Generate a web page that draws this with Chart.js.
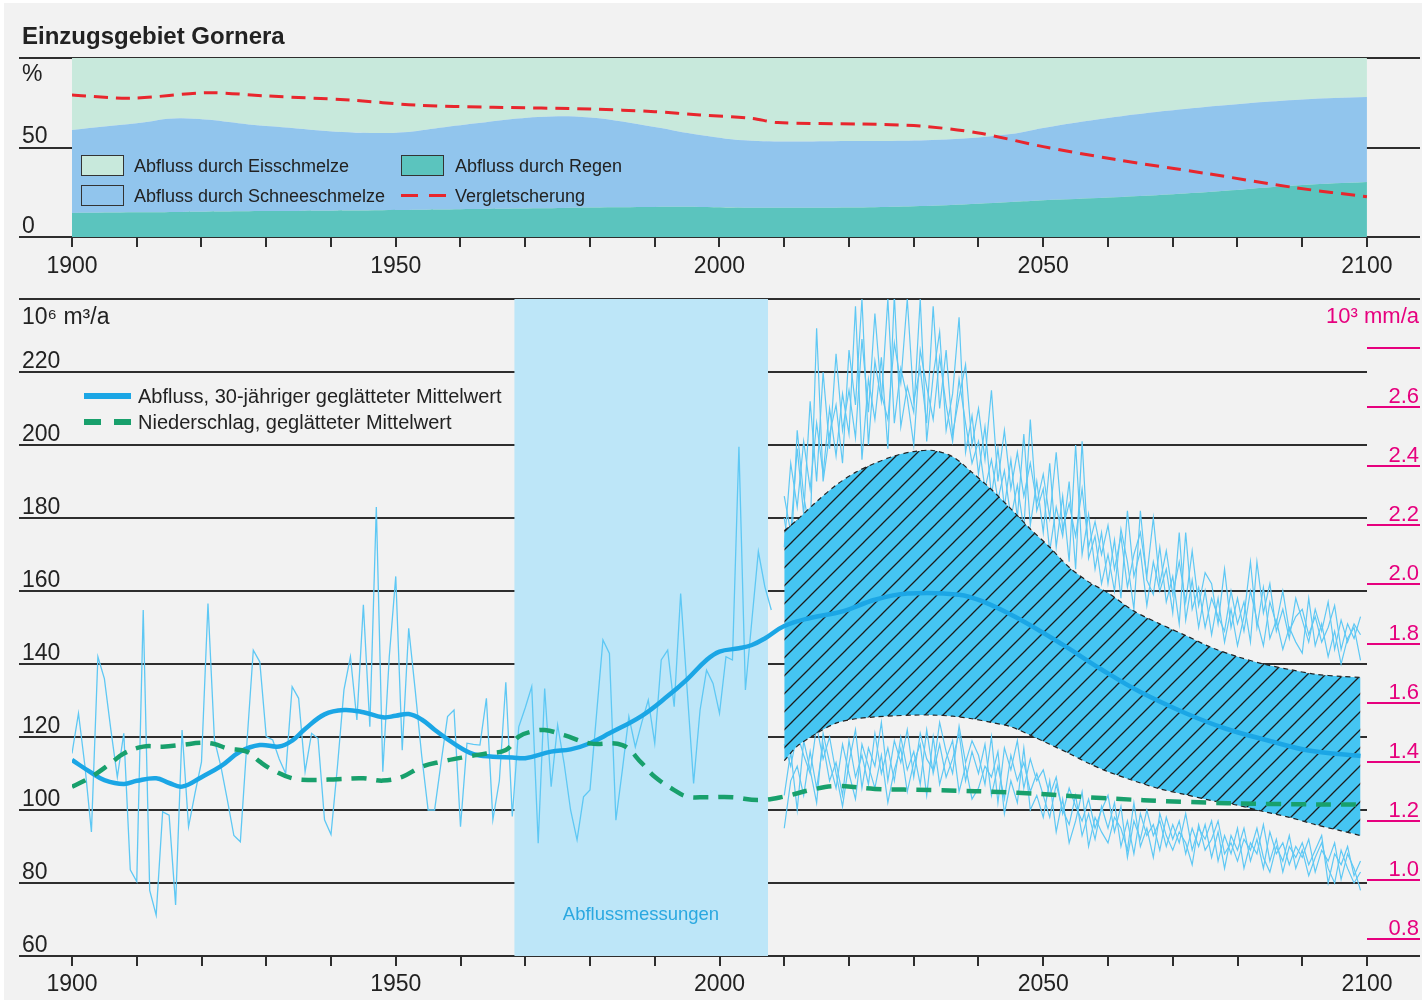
<!DOCTYPE html>
<html>
<head>
<meta charset="utf-8">
<script src="https://cdn.jsdelivr.net/npm/chart.js@4.4.1/dist/chart.umd.min.js"></script>
<style>
html,body{margin:0;padding:0;background:#ffffff;}
body{width:1422px;height:1000px;position:relative;overflow:hidden;font-family:'Liberation Sans',Arial,Helvetica,sans-serif;color:#222;}
#bg{position:absolute;left:4px;top:3px;right:0;bottom:0;background:#f2f2f2;}
canvas{position:absolute;left:0;}
#cTop{top:0;}
#cBot{top:290px;}
.t{position:absolute;white-space:nowrap;color:#222;}
.box{position:absolute;width:41px;height:19px;border:1.5px solid #333;}
.sw{position:absolute;}
</style>
</head>
<body>
<div id="bg"></div>
<canvas id="cTop" width="1422" height="290"></canvas>
<canvas id="cBot" width="1422" height="710"></canvas>

<!-- legend top panel -->
<div class="box" style="left:81px;top:155px;background:#c8e9dc;"></div>
<div class="t" style="left:134px;top:155px;font-size:18px;line-height:22px;">Abfluss durch Eisschmelze</div>
<div class="box" style="left:401px;top:155px;background:#5bc4be;"></div>
<div class="t" style="left:455px;top:155px;font-size:18px;line-height:22px;">Abfluss durch Regen</div>
<div class="box" style="left:81px;top:185px;background:#91c5ed;"></div>
<div class="t" style="left:134px;top:185px;font-size:18px;line-height:22px;">Abfluss durch Schneeschmelze</div>
<div class="sw" style="left:401px;top:194px;width:17px;height:3px;background:#e8262d;"></div>
<div class="sw" style="left:429px;top:194px;width:17px;height:3px;background:#e8262d;"></div>
<div class="t" style="left:455px;top:185px;font-size:18px;line-height:22px;">Vergletscherung</div>

<!-- legend bottom panel -->
<div class="sw" style="left:84px;top:393px;width:47px;height:6px;background:#1ba6e5;"></div>
<div class="t" style="left:138px;top:384px;font-size:20px;line-height:24px;">Abfluss, 30-jähriger geglätteter Mittelwert</div>
<div class="sw" style="left:84px;top:419px;width:17px;height:6px;background:#18a06c;"></div>
<div class="sw" style="left:114px;top:419px;width:17px;height:6px;background:#18a06c;"></div>
<div class="t" style="left:138px;top:410px;font-size:20px;line-height:24px;">Niederschlag, geglätteter Mittelwert</div>

<div class="t" style="left:514px;width:254px;text-align:center;top:903px;font-size:18.5px;line-height:22px;color:#2aa8e0;">Abflussmessungen</div>

<script>
// ---------------- DATA ----------------
// Top panel: shares of runoff (%) and glaciation (%)
const shareYears = [1900,1910,1917,1930,1948,1960,1972,1980,1990,1997,2005,2020,2035,2045,2050,2060,2075,2090,2100];
const rainShare  = [13.4,13.8,14.0,14.5,15.0,15.5,16.0,16.5,16.8,16.8,16.4,16.5,17.8,19.5,20.5,22.0,25.0,29.0,30.7];
const snowShare  = [46.4,49.7,52.3,47.5,43.1,47.0,51.0,50.3,44.7,40.2,37.4,37.1,36.7,38.0,40.4,44.5,47.6,47.8,47.5];
const iceShare   = [40.2,36.5,33.7,38.0,41.9,37.5,33.0,33.2,38.5,43.0,46.2,46.4,45.5,42.5,39.1,33.5,27.4,23.2,21.8];
const glacierYears = [1900,1909,1921,1930,1943,1953,1965,1980,1990,1997,2005,2009,2022,2031,2040,2050,2061,2075,2089,2100];
const glacierPct   = [79.3,77.5,80.6,78.8,76.5,73.7,72.5,71.5,70.0,68.2,66.3,63.9,63.1,62.0,58.1,50.5,43.4,35.6,27.5,22.5];

// Bottom panel: annual runoff 1900-2008 (10^6 m3/a)
const histStart = 1900;
const histRunoff = [
 115.5,126.5,112,94,142,136,122,109,121,83.6,
 80.4,154.8,78,71.2,99.5,98.6,74,121.9,95.4,104.6,
 113.2,156.6,119.2,111.9,102.7,93,91.3,118,143.8,140.6,
 120.1,119.2,114,110,133.8,130.6,110.5,121,119.6,97.3,
 93.3,112,132.9,142,124.7,156.2,122.8,183,110.5,142,
 164,116.4,149.8,132.9,115,100,100,113,125.6,127.4,
 95.4,118.3,118,117.8,130.6,97.3,108,135,98.2,122.8,
 128,133.8,90.9,133.3,106.4,123.3,112.8,100,91.8,103.6,
 105.5,126,146.6,142.9,97.2,111,125.6,117.3,124,130.1,
 118.3,141.1,143.8,128.3,159.3,133,107.3,127.4,138.3,134.7,
 126.5,142,141.1,199.5,132.9,152,170.8,161.2,154.8
];

// Scenario runs 2010-2099 (10^6 m3/a)
const futureStart = 2010;
const runHigh1 = [
 172,195,183,201,188,206,192,210,197,214,
 203,238,196,218,207,224,199,241,205,216,
 209,240,201,219,231,204,214,235,198,208,
 192,205,186,199,183,196,180,203,178,190,
 176,195,172,186,168,200,170,181,166,176,
 162,174,158,182,164,171,156,168,160,166,
 154,176,152,163,150,160,148,158,146,155,
 145,153,168,150,161,147,152,144,150,146,
 143,158,145,151,142,149,140,147,150,141
];
const runHigh2 = [
 180,168,204,186,176,232,190,203,211,195,
 226,211,240,200,223,212,240,206,221,213,
 200,226,216,207,224,211,201,218,206,195,
 201,188,196,185,193,180,189,177,207,182,
 188,171,183,175,190,166,201,169,175,162,
 170,160,177,168,155,182,163,159,172,157,
 164,151,176,155,161,150,158,153,149,160,
 151,157,146,168,154,162,149,155,147,158,
 152,146,155,149,157,144,152,146,151,148
];
const runHigh3 = [
 186,176,199,181,212,190,220,199,225,204,
 215,202,229,209,236,214,207,228,217,240,
 212,221,206,238,210,226,203,213,222,200,
 210,196,215,190,204,188,198,186,195,184,
 192,180,198,177,184,175,188,172,179,170,
 178,166,175,161,170,176,164,180,162,171,
 159,168,157,171,156,165,162,151,166,150,
 158,149,160,152,145,157,151,160,149,153,
 155,148,153,146,150,156,144,151,147,153
];
const runLow1 = [
 95,108,112,104,116,106,118,108,113,104,
 119,109,115,107,121,110,117,108,120,111,
 116,107,122,110,118,109,114,121,108,116,
 110,118,104,112,103,115,108,113,105,110,
 104,98,107,100,96,104,93,99,92,101,
 95,102,90,97,88,99,93,96,89,98,
 92,97,88,95,90,96,87,94,84,93,
 89,95,86,92,84,94,88,91,85,90,
 87,92,83,89,86,91,81,88,84,78
];
const runLow2 = [
 118,112,121,115,110,123,114,120,110,101,
 113,122,106,117,112,124,108,119,113,122,
 109,121,114,111,124,116,110,123,113,119,
 115,107,120,102,117,111,119,106,114,108,
 111,104,109,99,106,101,97,103,95,100,
 104,94,101,87,97,92,100,93,97,90,
 96,91,99,89,95,92,97,86,93,88,
 95,84,91,88,96,86,92,83,90,87,
 91,85,89,93,80,88,85,90,82,86
];
const runLow3 = [
 104,116,100,119,111,102,121,113,106,118,
 110,103,118,112,106,115,102,111,117,105,
 113,118,104,120,107,114,119,105,112,103,
 106,112,109,116,99,108,102,117,100,104,
 98,108,94,103,91,97,105,90,98,94,
 91,98,95,89,102,90,95,87,99,93,
 89,94,91,85,96,89,92,97,88,91,
 86,92,89,95,87,83,90,86,93,84,
 89,82,87,91,84,80,89,84,80,83
];

// Scenario envelope (10^6 m3/a)
const envYears = [2010,2012,2015,2018,2021,2024,2027,2030,2033,2036,2039,2042,2045,2048,2051,2054,2057,2060,2064,2068,2072,2076,2080,2084,2088,2092,2096,2099];
const envUpper = [176.5,179.5,184.5,189,192.5,195,197,198.2,198.5,196.8,192.5,187.8,182.5,177,172,166.5,162.5,159.5,154.5,151,147.8,144.5,142,140,138.5,137.2,136.6,136.3];
const envLower = [113.5,117.5,121,123.8,125,125.5,125.8,126,126,125.7,125,124,122.8,120.5,118,115.5,112.8,110.5,108,105.8,104.2,102.6,101.3,99.6,98,96,94.3,93];

// Smoothed runoff (30-year mean, 10^6 m3/a)
const smoothYears = [1900,1903,1905,1908,1910,1913,1915,1917,1920,1923,1926,1929,1932,1934,1936,1939,1942,1945,1948,1950,1952,1954,1956,1959,1962,1965,1968,1970,1974,1977,1980,1983,1988,1992,1995,1998,2000,2003,2005,2007,2010,2014,2019,2024,2029,2037,2041,2046,2053,2059,2065,2072,2078,2085,2091,2099];
const smoothRunoff = [113.7,110.2,108.2,107.1,108,108.7,107.4,106.4,109,112,116,117.8,117.4,119,122.2,126.2,127.4,126.8,125.4,125.8,126.3,124.8,122,118.2,115.3,114.6,114.4,114.2,116,116.6,118.3,121,125.8,131.2,135.8,141.1,143.4,144.3,145.2,147,150.4,152.6,154.4,157.6,159.3,159,156.9,152.6,145.3,138.5,132.3,126.5,122.4,118.9,116.3,114.8];

// Smoothed precipitation (10^3 mm/a)
const precipYears = [1900,1903,1906,1908,1911,1914,1917,1920,1922,1924,1927,1929,1931,1934,1937,1941,1945,1948,1951,1954,1957,1961,1964,1967,1969,1971,1973,1976,1980,1985,1988,1990,1993,1995,1998,2002,2006,2010,2014,2018,2024,2033,2046,2059,2072,2085,2099];
const precipMean  = [1.315,1.349,1.395,1.428,1.451,1.451,1.457,1.464,1.46,1.445,1.434,1.40,1.372,1.344,1.338,1.341,1.344,1.336,1.349,1.383,1.40,1.417,1.428,1.44,1.485,1.502,1.507,1.49,1.462,1.456,1.395,1.349,1.304,1.282,1.28,1.28,1.27,1.282,1.304,1.318,1.308,1.304,1.295,1.277,1.264,1.257,1.255];

// Discharge measurement period
const measureStart = 1968.3, measureEnd = 2007.5;

// Ticks and labels
const decadeYears = [1900,1910,1920,1930,1940,1950,1960,1970,1980,1990,2000,2010,2020,2030,2040,2050,2060,2070,2080,2090,2100];
const labelYears  = [1900,1950,2000,2050,2100];
const topTicks = [0,50,100];
const leftTicks = [60,80,100,120,140,160,180,200,220,240];
const rightTickValues = [0.8,1.0,1.2,1.4,1.6,1.8,2.0,2.2,2.4,2.6,2.8];
const rightTickLabels = ['0.8','1.0','1.2','1.4','1.6','1.8','2.0','2.2','2.4','2.6',''];
const unitPercent = '%';
const unitRunoff = '10⁶ m³/a';
const unitPrecip = '10³ mm/a';

// ---------------- HELPERS ----------------
const FONT = "'Liberation Sans', Arial, Helvetica, sans-serif";
Chart.defaults.font.family = FONT;
Chart.defaults.color = '#222';
const pts = (xs, ys) => xs.map((x, i) => ({x: x, y: ys[i]}));
const seq = (start, arr) => arr.map((v, i) => ({x: start + i, y: v}));
const CLEAR = 'rgba(0,0,0,0)';
const GRID = '#2e2e2e';
const MAG = '#e6007e';
const NOISE = '#5ec8f4';

function hatchPattern() {
  const s = 18;
  const c = document.createElement('canvas');
  c.width = s; c.height = s;
  const g = c.getContext('2d');
  g.fillStyle = '#45c5f2';
  g.fillRect(0, 0, s, s);
  g.strokeStyle = '#1b1b1b';
  g.lineWidth = 1.3;
  g.beginPath();
  g.moveTo(-2, s + 2); g.lineTo(s + 2, -2);
  g.moveTo(-2, 2); g.lineTo(2, -2);
  g.moveTo(s - 2, s + 2); g.lineTo(s + 2, s - 2);
  g.stroke();
  return g.createPattern(c, 'repeat');
}
const noiseSet = (label, arr) => ({label: label, data: seq(futureStart, arr), borderColor: NOISE, borderWidth: 1.2, pointRadius: 0, fill: false, order: 10});

// ---------------- TOP CHART ----------------
const unitTickTop = 85;   // position of the "%" unit label
new Chart(document.getElementById('cTop'), {
  type: 'line',
  data: {
    datasets: [
      {label: 'Vergletscherung', data: pts(glacierYears, glacierPct), stack: 'g', borderColor: '#e8262d', borderWidth: 3, borderDash: [14, 8], fill: false, pointRadius: 0, tension: 0.3, order: 0},
      {label: 'Abfluss durch Regen', data: pts(shareYears, rainShare), stack: 's', fill: 'origin', backgroundColor: '#5bc4be', borderWidth: 0, pointRadius: 0, tension: 0.4, order: 1},
      {label: 'Abfluss durch Schneeschmelze', data: pts(shareYears, snowShare), stack: 's', fill: '-1', backgroundColor: '#91c5ed', borderWidth: 0, pointRadius: 0, tension: 0.4, order: 1},
      {label: 'Abfluss durch Eisschmelze', data: pts(shareYears, iceShare), stack: 's', fill: '-1', backgroundColor: '#c8e9dc', borderWidth: 0, pointRadius: 0, tension: 0.4, order: 1}
    ]
  },
  options: {
    responsive: false, animation: false, devicePixelRatio: 1,
    layout: {padding: {left: 22, right: 2, top: 0, bottom: 0}},
    plugins: {
      legend: {display: false}, tooltip: {enabled: false},
      title: {display: true, text: 'Einzugsgebiet Gornera', align: 'start', color: '#222',
              font: {size: 24, weight: 'bold', lineHeight: 1.2}, padding: {top: 23, bottom: 6.2}}
    },
    scales: {
      x: {
        type: 'linear', min: 1900, max: 2108.2,
        afterBuildTicks: s => { s.ticks = decadeYears.map(v => ({value: v})); },
        ticks: {callback: v => labelYears.includes(v) ? String(v) : '', font: {size: 23}, color: '#222', padding: 6, maxRotation: 0, autoSkip: false},
        grid: {drawOnChartArea: false, drawTicks: true, tickLength: 10, color: GRID, lineWidth: 2},
        border: {display: false},
        afterFit: s => { s.height = 53; s.paddingLeft = 0; s.paddingRight = 0; }
      },
      y: {
        stacked: true, min: 0, max: 100, z: 1,
        afterBuildTicks: s => { s.ticks = topTicks.concat([unitTickTop]).sort((a, b) => a - b).map(v => ({value: v})); },
        ticks: {callback: v => v === unitTickTop ? unitPercent : (v === 100 ? '' : String(v)), mirror: true, padding: -50, crossAlign: 'near', labelOffset: -10.5, font: {size: 23}, color: '#222', autoSkip: false},
        grid: {color: c => (c.tick && c.tick.value === unitTickTop) ? CLEAR : GRID, lineWidth: 2, tickLength: 53, drawTicks: true},
        border: {display: false},
        afterFit: s => { s.width = 50; s.paddingTop = 0; s.paddingBottom = 0; }
      }
    }
  }
});

// ---------------- BOTTOM CHART ----------------
const unitTickLeft = 232.05;
const yMinR = 0.7425, yMaxR = 2.9658, unitTickRight = 2.871;
new Chart(document.getElementById('cBot'), {
  type: 'line',
  data: {
    datasets: [
      {label: 'Abflussmessungen', data: [{x: measureStart, y: 240}, {x: measureEnd, y: 240}], fill: 'start', backgroundColor: '#bde6f8', borderWidth: 0, pointRadius: 0, order: 20},
      {label: 'Abfluss jährlich', data: seq(histStart, histRunoff), borderColor: NOISE, borderWidth: 1.3, pointRadius: 0, tension: 0, fill: false, order: 10},
      noiseSet('Szenario hoch 1', runHigh1),
      noiseSet('Szenario hoch 2', runHigh2),
      noiseSet('Szenario hoch 3', runHigh3),
      noiseSet('Szenario tief 1', runLow1),
      noiseSet('Szenario tief 2', runLow2),
      noiseSet('Szenario tief 3', runLow3),
      {label: 'Bandbreite oben', data: pts(envYears, envUpper), borderColor: '#222', borderWidth: 1.2, borderDash: [5, 4], pointRadius: 0, tension: 0.3, fill: false, order: 6},
      {label: 'Bandbreite unten', data: pts(envYears, envLower), borderColor: '#222', borderWidth: 1.2, borderDash: [5, 4], pointRadius: 0, tension: 0.3, fill: '-1', backgroundColor: hatchPattern(), order: 7},
      {label: 'Abfluss, 30-jähriger geglätteter Mittelwert', data: pts(smoothYears, smoothRunoff), borderColor: '#1ba6e5', borderWidth: 4.5, pointRadius: 0, tension: 0.4, fill: false, order: 3},
      {label: 'Niederschlag, geglätteter Mittelwert', yAxisID: 'y2', data: pts(precipYears, precipMean), borderColor: '#18a06c', borderWidth: 4.5, borderDash: [15, 10], pointRadius: 0, tension: 0.4, fill: false, order: 2}
    ]
  },
  options: {
    responsive: false, animation: false, devicePixelRatio: 1,
    layout: {padding: {left: 22, right: 3, top: 9, bottom: 0}},
    plugins: {legend: {display: false}, tooltip: {enabled: false}, title: {display: false}},
    scales: {
      x: {
        type: 'linear', min: 1900, max: 2100,
        afterBuildTicks: s => { s.ticks = decadeYears.map(v => ({value: v})); },
        ticks: {callback: v => labelYears.includes(v) ? String(v) : '', font: {size: 23}, color: '#222', padding: 5, maxRotation: 0, autoSkip: false},
        grid: {drawOnChartArea: false, drawTicks: true, tickLength: 10, color: GRID, lineWidth: 2},
        border: {display: false},
        afterFit: s => { s.height = 44; s.paddingLeft = 0; s.paddingRight = 0; }
      },
      y: {
        position: 'left', min: 60, max: 240, z: 1,
        afterBuildTicks: s => { s.ticks = leftTicks.concat([unitTickLeft]).sort((a, b) => a - b).map(v => ({value: v})); },
        ticks: {callback: v => v === unitTickLeft ? unitRunoff : (v === 240 ? '' : String(v)), mirror: true, padding: -50, crossAlign: 'near', labelOffset: -10, font: {size: 23}, color: '#222', autoSkip: false},
        grid: {color: c => (c.tick && c.tick.value === unitTickLeft) ? CLEAR : GRID, lineWidth: 2, tickLength: 53, drawTicks: true},
        border: {display: false},
        afterFit: s => { s.width = 50; s.paddingTop = 0; s.paddingBottom = 0; }
      },
      y2: {
        position: 'right', min: yMinR, max: yMaxR,
        afterBuildTicks: s => { s.ticks = [yMinR].concat(rightTickValues, [unitTickRight, yMaxR]).map(v => ({value: v})); },
        ticks: {
          callback: v => { const i = rightTickValues.indexOf(v); if (i >= 0) return rightTickLabels[i]; return v === unitTickRight ? unitPrecip : ''; },
          mirror: true, padding: 52, crossAlign: 'near', labelOffset: -10, font: {size: 22}, color: MAG, autoSkip: false
        },
        grid: {
          drawOnChartArea: false, drawTicks: true, tickLength: 53, lineWidth: 2,
          tickColor: c => { const v = c.tick ? c.tick.value : null; if (v === unitTickRight) return CLEAR; if (v === yMinR || v === yMaxR) return GRID; return MAG; }
        },
        border: {display: false},
        afterFit: s => { s.width = 52; s.paddingTop = 0; s.paddingBottom = 0; }
      }
    }
  }
});
</script>
</body>
</html>
